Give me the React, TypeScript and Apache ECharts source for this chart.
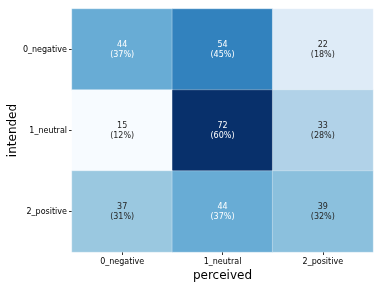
import React, { useEffect, useRef } from "react";
import * as echarts from "echarts";

const perceived = ["0_negative", "1_neutral", "2_positive"];
const intended = ["0_negative", "1_neutral", "2_positive"];
const counts = [
  [44, 54, 22],
  [15, 72, 33],
  [37, 44, 39],
];
const percents = [
  [37, 45, 18],
  [12, 60, 28],
  [31, 37, 32],
];
const blues = ["#f7fbff", "#deebf7", "#c6dbef", "#9ecae1", "#6baed6", "#4292c6", "#2171b5", "#08519c", "#08306b"];

export default function App() {
  const ref = useRef<HTMLDivElement>(null);
  useEffect(() => {
    const chart = echarts.init(ref.current!, null, { renderer: "svg" });
    const all = counts.flat();
    const vmin = Math.min(...all);
    const vmax = Math.max(...all);
    const data: any[] = [];
    counts.forEach((row, r) =>
      row.forEach((v, c) => {
        const t = (v - vmin) / (vmax - vmin);
        data.push({
          value: [c, r, v],
          label: { color: t > 0.45 ? "#ffffff" : "#262626" },
        });
      })
    );
    const font = "DejaVu Sans";
    chart.setOption({
      animation: false,
      textStyle: { fontFamily: font },
      grid: { left: 72, top: 9, width: 301, height: 243, containLabel: false, outerBoundsMode: "none" },
      xAxis: {
        type: "category",
        data: perceived,
        name: "perceived",
        nameLocation: "middle",
        nameGap: 17,
        nameMoveOverlap: false,
        nameTextStyle: { fontSize: 12, color: "#000", fontFamily: font },
        axisLine: { show: false },
        axisTick: { show: true, alignWithLabel: true, length: 3, lineStyle: { color: "#333" } },
        axisLabel: { fontSize: 8, color: "#000", margin: 5, fontFamily: font },
        splitLine: { show: false },
      },
      yAxis: {
        type: "category",
        data: intended,
        inverse: true,
        name: "intended",
        nameLocation: "middle",
        nameGap: 54,
        nameRotate: 90,
        nameMoveOverlap: false,
        nameTextStyle: { fontSize: 12, color: "#000", fontFamily: font },
        axisLine: { show: false },
        axisTick: { show: true, alignWithLabel: true, length: 3, lineStyle: { color: "#333" } },
        axisLabel: { fontSize: 8, color: "#000", margin: 5, fontFamily: font },
        splitLine: { show: false },
      },
      visualMap: {
        show: false,
        type: "continuous",
        min: vmin,
        max: vmax,
        dimension: 2,
        inRange: { color: blues },
      },
      series: [
        {
          type: "heatmap",
          data,
          itemStyle: { borderColor: "rgba(255,255,255,0.6)", borderWidth: 0.5 },
          label: {
            show: true,
            fontSize: 8,
            fontFamily: font,
            lineHeight: 10,
            formatter: (p: any) => {
              const [c, r] = p.value;
              return `${counts[r][c]}\n(${percents[r][c]}%)`;
            },
          },
        },
      ],
    });
    return () => chart.dispose();
  }, []);
  return <div ref={ref} style={{ position: "fixed", left: 0, top: 0, width: 382, height: 287 }} />;
}
